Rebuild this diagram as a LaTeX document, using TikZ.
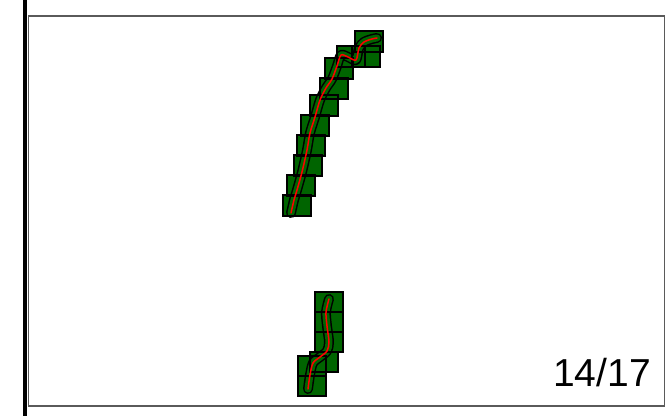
\documentclass[tikz,border=0pt]{standalone}
\usepackage{fontspec}
\setmainfont{Liberation Sans}
\definecolor{cellgreen}{HTML}{006400}
\definecolor{panelgrey}{HTML}{5A5A5A}
\tikzset{
  % ram
  edgebar/.style={draw=black,line width=3.5pt},
  panel/.style={draw=panelgrey,line width=1.5pt},
  % celler
  cell/.style={fill=cellgreen},
  celledge/.style={draw=black,line width=1.2pt},
  % spaar
  tubeout/.style={draw=black,line width=10pt,line cap=round,line join=round},
  tubein/.style={draw=white,line width=7pt,line cap=round,line join=round},
  tubefill/.style={draw=cellgreen,line width=7pt,line cap=round,line join=round},
  trail/.style={draw=red,line width=1.5pt,line cap=round,line join=round},
  counter/.style={font=\fontsize{39}{46}\selectfont,inner sep=0pt,anchor=base east},
}
\def\upcells{355/31,352/46,337/46,325/58,320/78,310/95,301/115,297/135,294/155,287/175,283/195}
\def\lowcells{315/292,315/312,315/332,310/352,298/356,298/376}
\def\uptrack{(291,213) (294,200) (297,190) (302,172) (307,150) (310,133) (315,117)
  (320,100) (326,88) (332,79) (337,66) (341,55) (348,57) (356,60) (359,48)
  (364,42) (372,39) (377,38)}
\def\lowtrack{(329,299) (326,312) (327,326) (329,342) (327,351) (320,357)
  (313,363) (310,375) (308,389)}

\begin{document}
\begin{tikzpicture}[x=1pt,y=-1pt]
  \useasboundingbox (0,0) rectangle (667,416);
  \draw[edgebar] (25,0) -- (25,416);
  \draw[panel] (28.5,16) rectangle (664.5,406);
  % celler
  \foreach \x/\y in \upcells {\fill[cell] (\x,\y) rectangle ++(28,21);}
  \foreach \x/\y in \lowcells {\fill[cell] (\x,\y) rectangle ++(28,20);}
  % roer
  \draw[tubeout] plot[smooth,tension=0.5] coordinates {\uptrack};
  \draw[tubeout] plot[smooth,tension=0.5] coordinates {\lowtrack};
  \draw[tubefill] plot[smooth,tension=0.5] coordinates {\uptrack};
  \draw[tubefill] plot[smooth,tension=0.5] coordinates {\lowtrack};
  \begin{scope}
    \clip (270,216.5) rectangle (310,230);
    \draw[tubein] plot[smooth,tension=0.5] coordinates {\uptrack};
  \end{scope}
  \foreach \x/\y in \upcells {\draw[celledge] (\x,\y) rectangle ++(28,21);}
  \foreach \x/\y in \lowcells {\draw[celledge] (\x,\y) rectangle ++(28,20);}
  \draw[trail] plot[smooth,tension=0.5] coordinates {\uptrack};
  \draw[trail] plot[smooth,tension=0.5] coordinates {\lowtrack};
  \node[counter] (pageno) at (651,386) {14/17};
\end{tikzpicture}
\end{document}
